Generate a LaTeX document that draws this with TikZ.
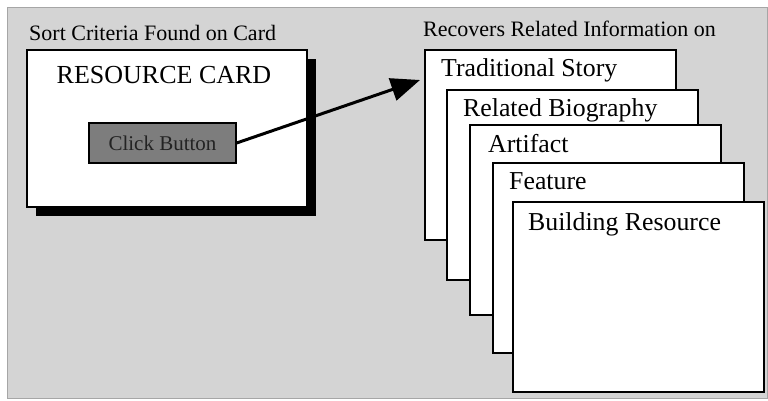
\documentclass[tikz,border=0pt]{standalone}
\usepackage{fontspec}
\setmainfont{Liberation Serif}
\usetikzlibrary{arrows.meta, positioning, shadows}
\definecolor{panelgray}{RGB}{212,212,212}
\definecolor{buttongray}{RGB}{125,125,125}
\definecolor{buttontext}{RGB}{35,35,35}
\tikzstyle{panel} = [draw=gray!70, fill=panelgray, line width=0.8pt]
\tikzstyle{resourcecard} = [draw=black, fill=white, line width=1.6pt, minimum width=280pt, minimum height=157pt, anchor=north west, inner sep=0pt, drop shadow={shadow xshift=9pt, shadow yshift=-9pt, fill=black, opacity=1}]
\tikzstyle{infocard} = [draw=black, fill=white, line width=1.6pt, minimum width=251pt, minimum height=190pt, anchor=north west, inner sep=0pt]
\tikzstyle{cardtitle} = [anchor=base west, inner sep=0pt, font=\fontsize{25.8}{30}\selectfont]
\tikzstyle{caption} = [anchor=base west, inner sep=0pt, font=\fontsize{22}{26}\selectfont]
\tikzstyle{button} = [draw=black, fill=buttongray, line width=1.2pt, minimum width=147pt, minimum height=40pt, text=buttontext, font=\fontsize{21}{25}\selectfont]
\begin{document}
\begin{tikzpicture}[x=1pt, y=-1pt]
		\useasboundingbox (0,0) rectangle (768,400);
		\draw[panel] (7,7) rectangle (767,398);
		% search card
		\node[caption] (sortlabel) at (29,40) {Sort Criteria Found on Card};
		\node[resourcecard] (card) at (26,49) {};
		\node[font=\fontsize{26}{30}\selectfont] (cardname) at (164,75) {RESOURCE CARD};
		\node[button] (btn) at (162.5,143) {Click Button};
		% stack of result cards
		\node[infocard] (story) at (424,49) {};
		\node[infocard, below right=40pt and 22pt of story.north west] (bio) {};
		\node[infocard, below right=35pt and 23pt of bio.north west] (artifact) {};
		\node[infocard, below right=38pt and 23pt of artifact.north west] (feature) {};
		\node[infocard, below right=39pt and 20pt of feature.north west] (building) {};
		\node[caption] (recovers) at ([xshift=-1pt, yshift=13pt]story.north west) {Recovers Related Information on};
		\node[cardtitle] (storytitle) at ([xshift=17pt, yshift=-27pt]story.north west) {Traditional Story};
		\node[cardtitle] (biotitle) at ([xshift=17pt, yshift=-27pt]bio.north west) {Related Biography};
		\node[cardtitle] (artifacttitle) at ([xshift=19pt, yshift=-28pt]artifact.north west) {Artifact};
		\node[cardtitle] (featuretitle) at ([xshift=17pt, yshift=-27pt]feature.north west) {Feature};
		\node[cardtitle] (buildingtitle) at ([xshift=16pt, yshift=-29pt]building.north west) {Building Resource};
		\coordinate (tip) at ([xshift=-4pt, yshift=-31pt]story.north west);
		\draw[-{Triangle[length=29pt, width=23pt]}, line width=3pt] (btn.east) -- (tip);
	\end{tikzpicture}
\end{document}
